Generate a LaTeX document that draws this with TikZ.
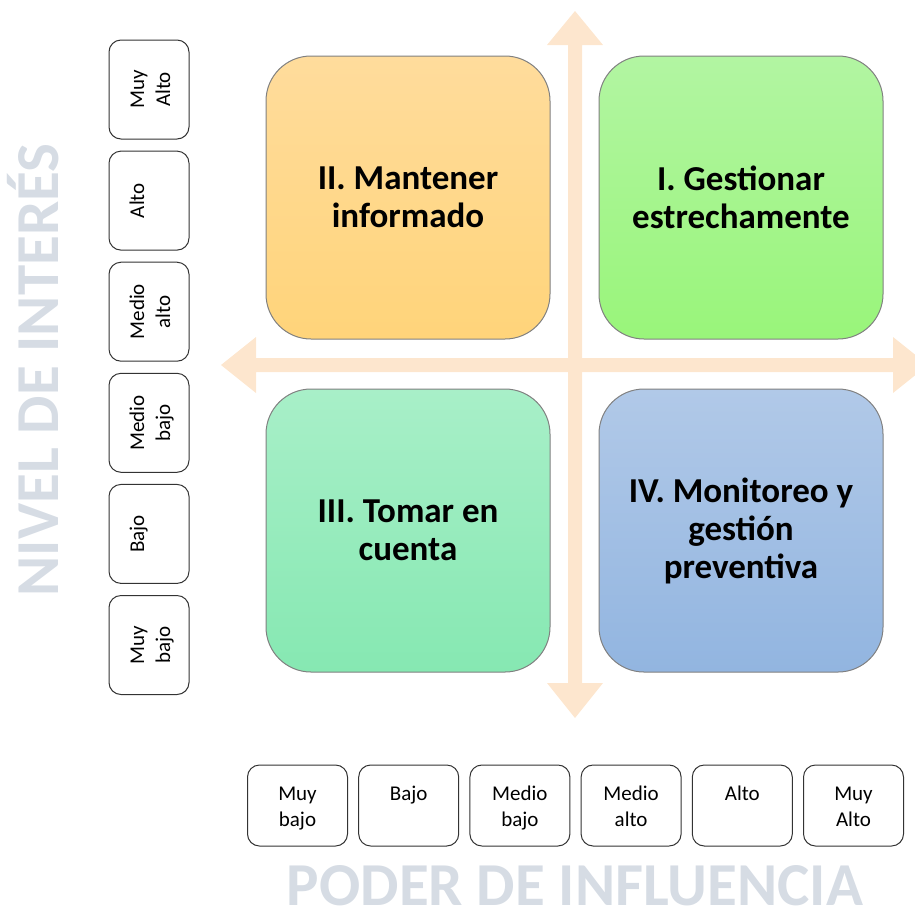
\documentclass[tikz,border=0pt]{standalone}
\usepackage{fontspec}
\setmainfont{Carlito}
\definecolor{arrowpeach}{HTML}{FDE6CE}
\definecolor{axisgray}{HTML}{D6DCE4}
\definecolor{orTop}{HTML}{FFDC9C}
\definecolor{orBot}{HTML}{FFD47A}
\definecolor{grTop}{HTML}{B2F5A2}
\definecolor{grBot}{HTML}{99F57A}
\definecolor{tlTop}{HTML}{A8EFC8}
\definecolor{tlBot}{HTML}{86E8B2}
\definecolor{blTop}{HTML}{B1C9E8}
\definecolor{blBot}{HTML}{92B5E0}
\newcommand{\hbx}[1]{\parbox[c][81pt][t]{100pt}{\centering\rule{0pt}{35pt}#1}}
\newcommand{\vbx}[1]{\parbox[c][80pt][t]{99pt}{\centering\rule{0pt}{35pt}#1}}
\begin{document}
\begin{tikzpicture}[x=1pt,y=-1pt,
  quad/.style={draw=black!50, line width=1pt, rounded corners=45pt,
    minimum width=284pt, minimum height=283pt, inner sep=0pt, align=center,
    font=\fontsize{35}{38}\selectfont\bfseries},
  lvl/.style={draw=black!80, line width=1pt, rounded corners=12pt, fill=white,
    inner sep=0pt, font=\fontsize{21}{26}\selectfont},
  axislabel/.style={text=axisgray, font=\fontsize{61}{62}\selectfont\bfseries,
    text height=37pt, text depth=0pt, inner sep=0pt}
]
\useasboundingbox (0,0) rectangle (915,911);
\clip (0,0) rectangle (915,911);

% axis arrows
\fill[arrowpeach] (568,45) -- (547,45) -- (575,11) -- (603,45) -- (582,45)
  -- (582,683) -- (603,683) -- (575,718) -- (547,683) -- (568,683) -- cycle;
\fill[arrowpeach] (256,358) -- (256,337) -- (221,365) -- (256,393) -- (256,372)
  -- (893,372) -- (893,393) -- (928,365) -- (893,337) -- (893,358) -- cycle;

% quadrants
\node[quad, top color=orTop, bottom color=orBot] (q2) at (408,197.5) {II. Mantener\\informado};
\node[quad, top color=grTop, bottom color=grBot] (q1) at (741,197.5) {I. Gestionar\\estrechamente};
\node[quad, top color=tlTop, bottom color=tlBot] (q3) at (408,530.5) {III. Tomar en\\cuenta};
\node[quad, top color=blTop, bottom color=blBot] (q4) at (741,530.5) {IV. Monitoreo y\\gestión\\preventiva};

% vertical scale (interest)
\node[lvl, rotate=90] (i6) at (149,89.5) {\vbx{Muy\\Alto}};
\node[lvl, rotate=90] (i5) at (149,200.6) {\vbx{Alto}};
\node[lvl, rotate=90] (i4) at (149,311.7) {\vbx{Medio\\alto}};
\node[lvl, rotate=90] (i3) at (149,422.8) {\vbx{Medio\\bajo}};
\node[lvl, rotate=90] (i2) at (149,533.9) {\vbx{Bajo}};
\node[lvl, rotate=90] (i1) at (149,645) {\vbx{Muy\\bajo}};

% horizontal scale (influence)
\node[lvl] (p1) at (297.5,805.5) {\hbx{Muy\\bajo}};
\node[lvl] (p2) at (408.7,805.5) {\hbx{Bajo}};
\node[lvl] (p3) at (519.9,805.5) {\hbx{Medio\\bajo}};
\node[lvl] (p4) at (631.1,805.5) {\hbx{Medio\\alto}};
\node[lvl] (p5) at (742.3,805.5) {\hbx{Alto}};
\node[lvl] (p6) at (853.5,805.5) {\hbx{Muy\\Alto}};

% axis titles
\node[axislabel] (xlab) at (575,887) {PODER DE INFLUENCIA};
\node[axislabel, rotate=90] (ylab) at (40,370) {NIVEL DE INTERÉS};
\end{tikzpicture}
\end{document}
